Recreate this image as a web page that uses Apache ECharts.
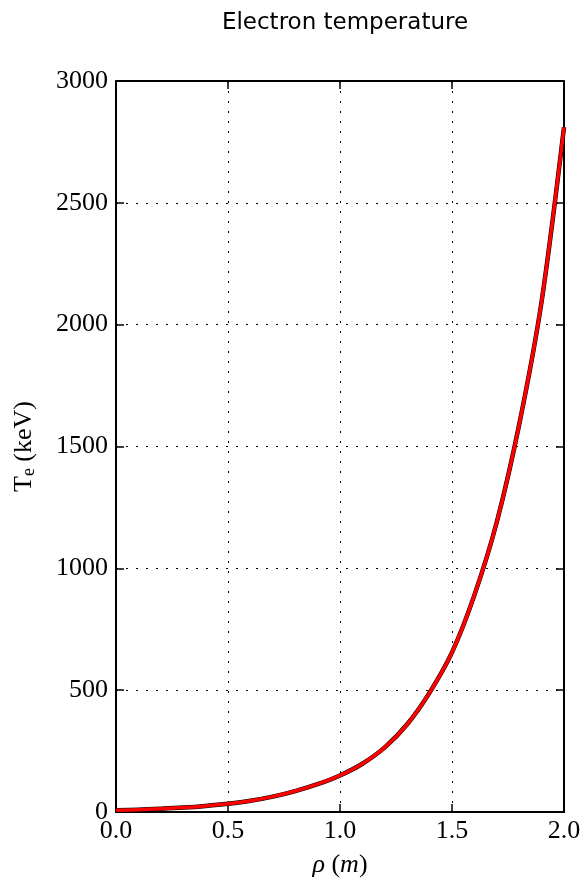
<!DOCTYPE html>
<html>
<head>
<meta charset="utf-8">
<script src="https://cdn.jsdelivr.net/npm/echarts@6/dist/echarts.min.js"></script>
<style>
html,body{margin:0;padding:0;background:#fff;}
#c{width:584px;height:885px;}
</style>
</head>
<body>
<div id="c"></div>
<script>
const titleText = 'Electron temperature';
const rho = [0, 0.1, 0.2, 0.3, 0.4, 0.5, 0.6, 0.7, 0.8, 0.9, 1.0, 1.1, 1.2, 1.3, 1.4, 1.5, 1.6, 1.7, 1.8, 1.9, 2.0];
const Te  = [7, 9, 13, 18, 25, 34, 46, 63, 86, 114, 150, 198, 265, 360, 490, 655, 890, 1190, 1590, 2095, 2810];
const yTicks = [0, 500, 1000, 1500, 2000, 2500, 3000];
const xTicks = [0.0, 0.5, 1.0, 1.5, 2.0];

const pts = rho.map((r, i) => [r, Te[i]]);
const serif = 'Liberation Serif';
const chart = echarts.init(document.getElementById('c'), null, {renderer: 'canvas'});
const gridLine = {show: true, lineStyle: {color: '#000', width: 1, type: [2, 8]}};
const axLine = {show: true, onZero: false, lineStyle: {color: '#000', width: 2}};
const tick = {show: true, inside: true, length: 8, lineStyle: {color: '#000', width: 1.5}};

chart.setOption({
  animation: false,
  backgroundColor: '#fff',
  title: {
    text: titleText, left: 340, top: 7, textAlign: 'center',
    textStyle: {fontFamily: 'DejaVu Sans', fontSize: 23, fontWeight: 'normal', color: '#000'}
  },
  grid: {left: 116, right: 20, top: 81, bottom: 73, containLabel: false},
  xAxis: [{
    type: 'value', min: 0, max: 2, interval: 0.5, position: 'bottom',
    axisLine: axLine, axisTick: tick, splitLine: gridLine,
    axisLabel: {fontFamily: serif, fontSize: 26, color: '#000', margin: 6,
      formatter: v => v.toFixed(1)},
    name: '{i|ρ} {n|(}{i|m}{n|)}', nameLocation: 'middle', nameGap: 40,
    nameTextStyle: {fontFamily: serif, fontSize: 26, color: '#000',
      rich: {i: {fontFamily: serif, fontStyle: 'italic', fontSize: 26}, n: {fontFamily: serif, fontSize: 26}}}
  }, {
    type: 'value', min: 0, max: 2, interval: 0.5, position: 'top',
    axisLine: axLine, axisTick: tick, splitLine: {show: false}, axisLabel: {show: false}
  }],
  yAxis: [{
    type: 'value', min: 0, max: 3000, interval: 500, position: 'left',
    axisLine: axLine, axisTick: tick, splitLine: gridLine,
    axisLabel: {fontFamily: serif, fontSize: 26, color: '#000', margin: 8,
      formatter: v => String(v)},
    name: '{n|T}{s|e}{n| (keV)}', nameLocation: 'middle', nameGap: 78, nameRotate: 90,
    nameTextStyle: {fontFamily: serif, fontSize: 26, color: '#000',
      rich: {n: {fontFamily: serif, fontSize: 26}, s: {fontFamily: serif, fontSize: 18, verticalAlign: 'bottom', padding: [10, 0, 0, 0]}}}
  }, {
    type: 'value', min: 0, max: 3000, interval: 500, position: 'right',
    axisLine: axLine, axisTick: tick, splitLine: {show: false}, axisLabel: {show: false}
  }],
  series: [{
    type: 'line', data: pts, smooth: 0.3, showSymbol: false, symbol: 'none',
    lineStyle: {color: '#000', width: 4.5}, z: 3
  }, {
    type: 'line', data: pts, smooth: 0.3, showSymbol: false, symbol: 'none',
    lineStyle: {color: '#ff0000', width: 3.5}, z: 4
  }]
});
</script>
</body>
</html>
